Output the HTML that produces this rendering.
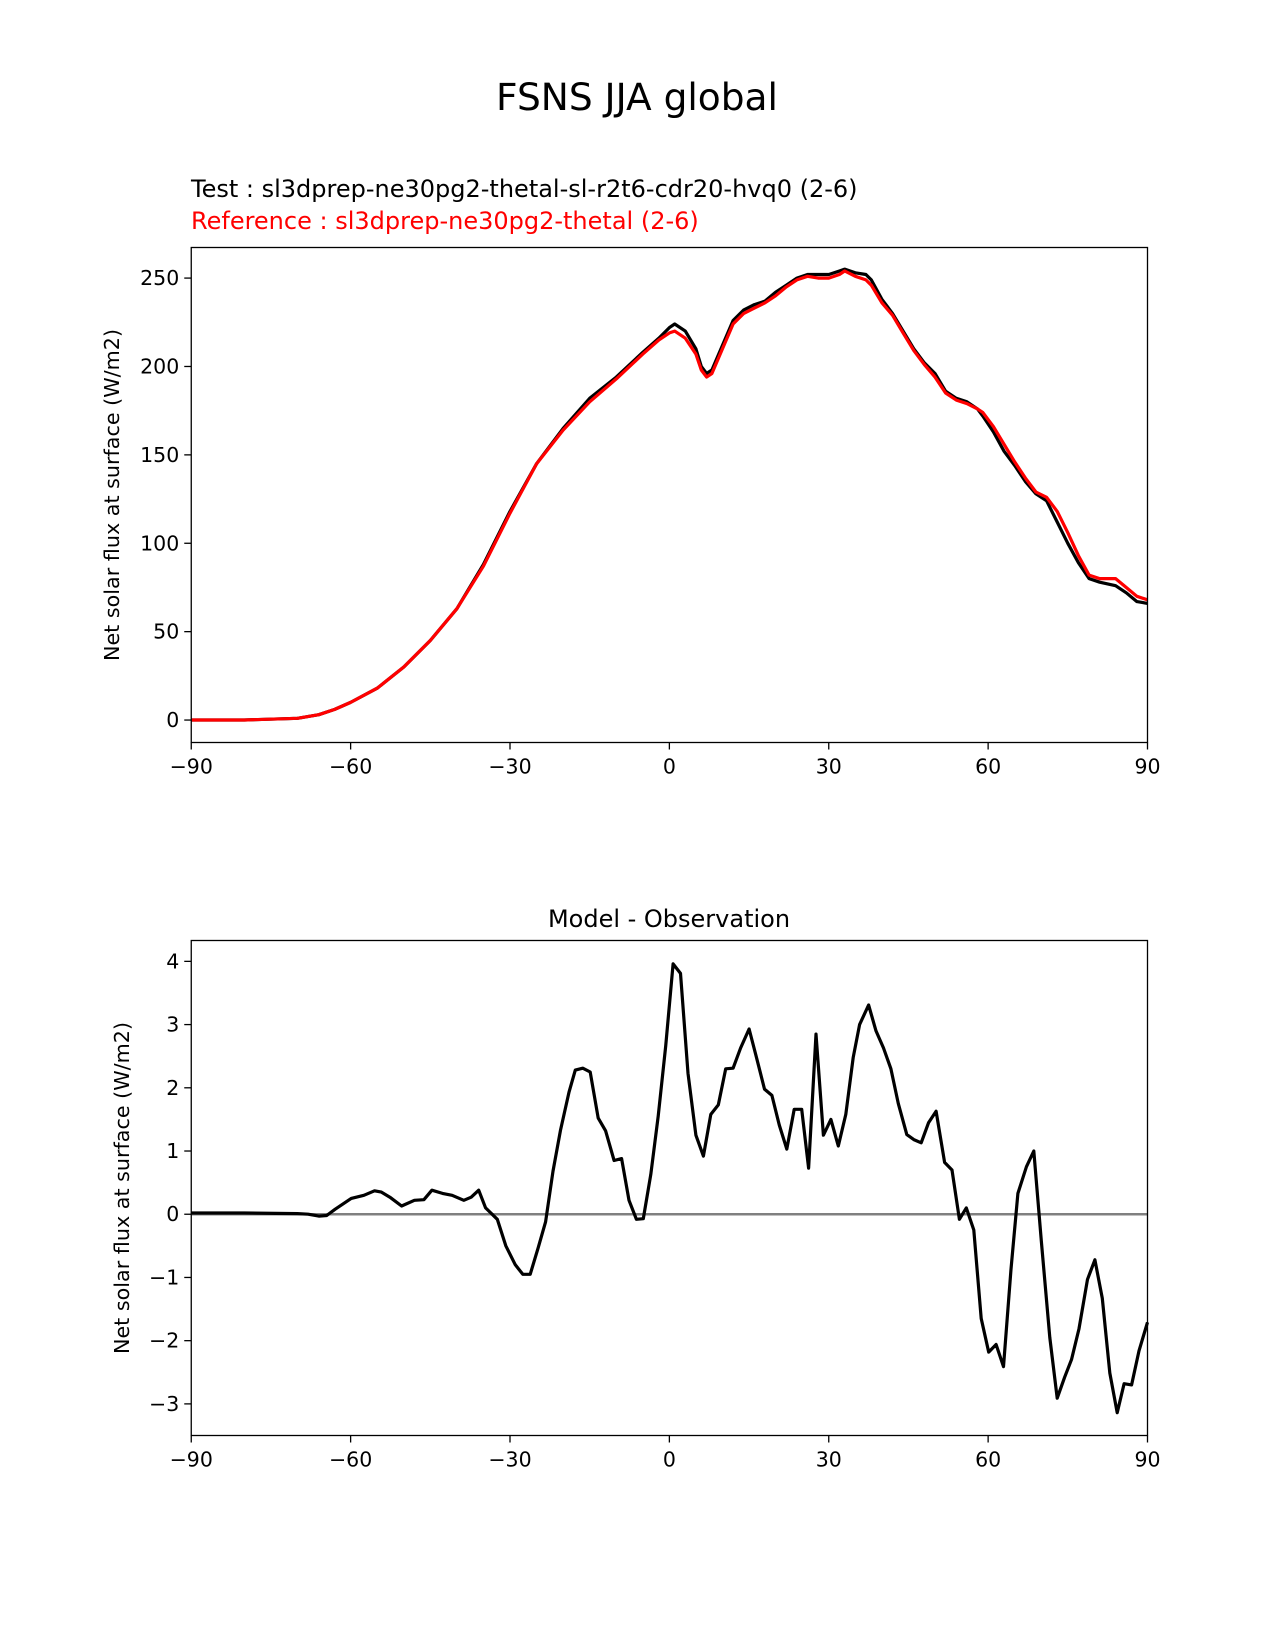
<!DOCTYPE html>
<html><head><meta charset="utf-8"><style>
html,body{margin:0;padding:0;background:#fff}
svg{display:block}
text{font-family:"DejaVu Sans","Liberation Sans",sans-serif}
</style></head><body>
<svg id="fig" width="1275" height="1650" viewBox="0 0 1275 1650">
<text x="637" y="110" font-size="37.5" text-anchor="middle">FSNS JJA global</text>
<text x="191" y="197" font-size="24" fill="#000">Test : sl3dprep-ne30pg2-thetal-sl-r2t6-cdr20-hvq0 (2-6)</text>
<text x="191" y="229" font-size="24" fill="#ff0000">Reference : sl3dprep-ne30pg2-thetal (2-6)</text>
<text x="669" y="927" font-size="24" text-anchor="middle">Model - Observation</text>
<text transform="translate(119,495) rotate(-90)" font-size="20.7" text-anchor="middle">Net solar flux at surface (W/m2)</text>
<text transform="translate(129,1188) rotate(-90)" font-size="20.7" text-anchor="middle">Net solar flux at surface (W/m2)</text>
<g id="top"></g>
<g id="bot"></g>
</svg>
<script>
const topLat = [-90,-80,-70,-66,-63,-60,-55,-50,-45,-40,-35,-30,-25,-20,-15,-10,-5,-2,0,1,3,5,6,7,8,10,12,14,16,18,20,22,24,26,28,30,32,33,35,37,38,40,42,44,46,48,50,52,54,56,58,59,61,63,65,67,69,71,73,75,77,79,81,84,86,88,90];
const testVals = [0,0,1,3,6,10,18,30,45,63,88,118,145,165,182,194,208,216,222,224,220,210,200,196,198,212,226,232,235,237,242,246,250,252,252,252,254,255,253,252,249,238,230,220,210,202,196,186,182,180,176,172,163,152,144,135,128,124,112,100,89,80,78,76,72,67,66];
const refVals = [0,0,1,3,6,10,18,30,45,63,87,117,145,164,180,193,207,215,219,220,216,207,198,194,196,210,224,230,233,236,240,245,249,251,250,250,252,254,251,249,246,236,229,219,209,201,194,185,181,179,176,174,166,156,146,137,129,126,118,106,93,82,80,80,75,70,68];
const diffLat = [-90,-80,-70,-68,-66,-64.5,-62.9,-59.9,-57.5,-55.5,-54.2,-52.6,-50.4,-48,-46.2,-44.7,-42.7,-40.9,-38.7,-37.3,-35.9,-34.6,-32.4,-30.8,-29,-27.6,-26.2,-24.7,-23.3,-21.9,-20.5,-18.9,-17.7,-16.3,-14.9,-13.4,-12,-10.4,-9,-7.6,-6.2,-4.9,-3.5,-2.1,-0.7,0.7,2.1,3.5,5,6.4,7.8,9.2,10.6,12,13.4,15,16.3,17.9,19.3,20.7,22.1,23.5,24.9,26.2,27.6,29,30.4,31.8,33.2,34.6,35.8,37.5,38.9,40.3,41.7,43.1,44.7,46,47.4,48.8,50.2,51.8,53.2,54.6,55.9,57.3,58.7,60.1,61.5,62.9,64.3,65.6,67.2,68.6,70,71.6,73,74.4,75.7,77.1,78.7,80.1,81.5,82.9,84.3,85.6,87,88.4,90];
const diffVals = [0.02,0.02,0.01,0,-0.03,-0.02,0.08,0.25,0.3,0.37,0.35,0.27,0.13,0.22,0.23,0.38,0.33,0.3,0.22,0.27,0.38,0.1,-0.08,-0.5,-0.8,-0.95,-0.95,-0.53,-0.12,0.68,1.33,1.93,2.28,2.31,2.25,1.52,1.32,0.85,0.88,0.22,-0.08,-0.07,0.63,1.55,2.66,3.96,3.81,2.23,1.25,0.92,1.58,1.73,2.3,2.31,2.63,2.93,2.51,1.98,1.88,1.41,1.03,1.66,1.66,0.73,2.85,1.25,1.5,1.08,1.58,2.48,3.0,3.31,2.9,2.63,2.3,1.75,1.26,1.18,1.13,1.45,1.63,0.82,0.7,-0.08,0.1,-0.25,-1.65,-2.18,-2.06,-2.41,-0.87,0.33,0.75,1.0,-0.42,-1.95,-2.91,-2.58,-2.3,-1.81,-1.03,-0.72,-1.33,-2.51,-3.14,-2.68,-2.7,-2.16,-1.71];
const xTicks = [-90,-60,-30,0,30,60,90];
const xTickLabels = ["\u221290","\u221260","\u221230","0","30","60","90"];
const topYTicks = [0,50,100,150,200,250];
const botYTicks = [-3,-2,-1,0,1,2,3,4];

const NS="http://www.w3.org/2000/svg";
function el(tag, attrs, parent){const e=document.createElementNS(NS,tag);for(const k in attrs)e.setAttribute(k,attrs[k]);parent.appendChild(e);return e;}
const L=191.25, R=1147.5;
function xs(v){return L+(v+90)/180*(R-L);}
function panel(g, T, B, ymin, ymax, yTicks, prefix){
  const ys=v=>B-(v-ymin)/(ymax-ymin)*(B-T);
  xTicks.forEach((t,i)=>{
    const ln=el('line',{x1:xs(t),x2:xs(t),y1:B,y2:B+7,stroke:'#000','stroke-width':1.3},g);
    
    
    const tx=el('text',{x:xs(t),y:B+31,'font-size':20.5,'text-anchor':'middle'},g);
    tx.textContent=xTickLabels[i];
    
    
  });
  yTicks.forEach(t=>{
    const ln=el('line',{x1:L-7,x2:L,y1:ys(t),y2:ys(t),stroke:'#000','stroke-width':1.3},g);
    
    
    const tx=el('text',{x:L-12,y:ys(t)+7,'font-size':20.5,'text-anchor':'end'},g);
    tx.textContent=(t<0?'\u2212':'')+Math.abs(t);
    
    
  });
  return ys;
}
function line(g, lats, vals, ys, color, w, name){
  const d=lats.map((la,i)=>(i?'L':'M')+xs(la).toFixed(1)+','+ys(vals[i]).toFixed(1)).join('');
  const p=el('path',{d:d,fill:'none',stroke:color,'stroke-width':w,'stroke-linejoin':'round'},g);
  
  
}
function frame(g,T,B,name){
  const r=el('rect',{x:L,y:T,width:R-L,height:B-T,fill:'none',stroke:'#000','stroke-width':1.3},g);
  
  
}
const gt=document.getElementById('top');
const ysT=panel(gt,247.5,742.5,-12.7,267.3,topYTicks,'top');
line(gt,topLat,testVals,ysT,'#000',3.2,'test-line');
line(gt,topLat,refVals,ysT,'#ff0000',3.2,'reference-line');
frame(gt,247.5,742.5,'top-axes-frame');
const gb=document.getElementById('bot');
const ysB=panel(gb,940.5,1435.5,-3.5,4.33,botYTicks,'bottom');
const z=el('line',{x1:L,x2:R,y1:ysB(0),y2:ysB(0),stroke:'#808080','stroke-width':2.5},gb);


line(gb,diffLat,diffVals,ysB,'#000',3.2,'difference-line');
frame(gb,940.5,1435.5,'bottom-axes-frame');
</script>
</body></html>
